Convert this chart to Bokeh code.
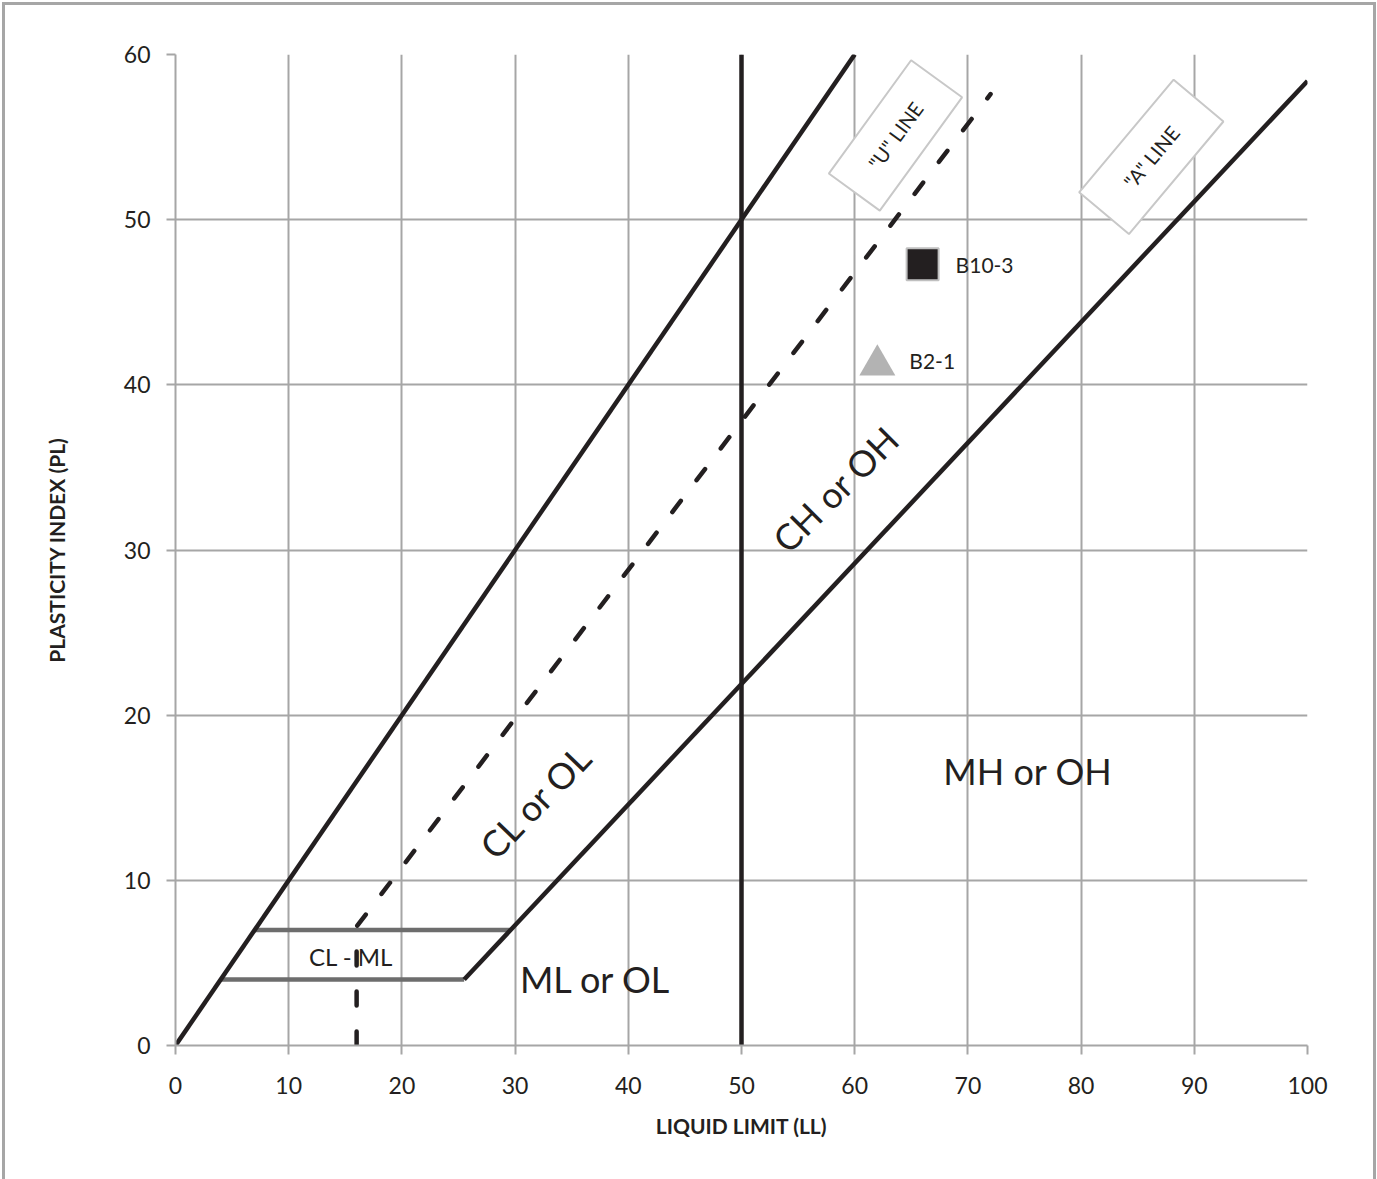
import math
from bokeh.plotting import figure
from bokeh.models import FixedTicker, ColumnDataSource
from bokeh.core.properties import value
from bokeh.embed import file_html
from bokeh.resources import INLINE

FONT = "Lato"
INK = "#231f20"
GRID = "#a6a6a6"

# ---- data ----
ll_ticks = [0, 10, 20, 30, 40, 50, 60, 70, 80, 90, 100]
pi_ticks = [0, 10, 20, 30, 40, 50, 60]

upper_ll = [0, 60]
upper_pi = [0, 60]
ll50_ll = [50, 50]
ll50_pi = [0, 60]
a_line_ll = [25.5, 100]
a_line_pi = [4.0, 58.4]
u_line_ll = [16, 16, 72]
u_line_pi = [0, 7.2, 57.6]
clml_ll = [[4, 25.5], [7, 29.6]]
clml_pi = [[4, 4], [7, 7]]

sample_names = ["B10-3", "B2-1"]
sample_ll = [66.0, 62.0]
sample_pi = [47.3, 41.2]

zone_text = ["CL or OL", "CH or OH", "MH or OH", "ML or OL", "CL - ML"]
zone_ll = [31.8, 58.3, 75.3, 37.1, 15.5]
zone_pi = [14.8, 33.7, 16.6, 4.0, 5.4]
zone_angle_deg = [46, 45, 0, 0, 0]
zone_size = ["36px", "36px", "36px", "36px", "24px"]

box_text = ['"U" LINE', '"A" LINE']
box_ll = [63.6, 86.2]
box_pi = [55.1, 53.8]
box_angle_deg = [54, 50]

p = figure(width=1368, height=1174, x_range=(0, 100), y_range=(0, 60),
           output_backend="svg", toolbar_location=None,
           min_border_left=170, min_border_right=72,
           min_border_top=49, min_border_bottom=137,
           background_fill_color="white", border_fill_color="white")
p.outline_line_color = None
# outer chart-area border, open at the bottom as in the picture
p.styles = {"margin-left": "2px", "margin-top": "2px",
            "border-left": "3px solid #a6a6a6",
            "border-top": "3px solid #a6a6a6",
            "border-right": "3px solid #a6a6a6",
            "box-sizing": "content-box"}

for ax in (p.xaxis[0], p.yaxis[0]):
    ax.axis_line_color = GRID
    ax.axis_line_width = 2
    ax.major_tick_line_color = GRID
    ax.major_tick_line_width = 2
    ax.major_tick_out = 9
    ax.major_tick_in = 0
    ax.minor_tick_line_color = None
    ax.major_label_text_font = FONT
    ax.major_label_text_font_size = "23px"
    ax.major_label_text_color = INK
    ax.axis_label_text_font = FONT
    ax.axis_label_text_font_style = "bold"
    ax.axis_label_text_font_size = "21px"
    ax.axis_label_text_color = INK

p.xaxis.ticker = FixedTicker(ticks=ll_ticks)
p.yaxis.ticker = FixedTicker(ticks=pi_ticks)
p.xaxis.axis_label = "LIQUID LIMIT (LL)"
p.yaxis.axis_label = "PLASTICITY INDEX (PL)"
p.xaxis.major_label_standoff = 22
p.yaxis.major_label_standoff = 16
p.xaxis.axis_label_standoff = 16
p.yaxis.axis_label_standoff = 52

p.xgrid.ticker = FixedTicker(ticks=ll_ticks)
p.ygrid.ticker = FixedTicker(ticks=pi_ticks)
for g in (p.xgrid[0], p.ygrid[0]):
    g.grid_line_color = GRID
    g.grid_line_width = 2

# boundary lines
p.multi_line(xs=clml_ll, ys=clml_pi, line_color="#6d6d6d", line_width=4.5)
p.line(upper_ll, upper_pi, line_color=INK, line_width=4.5)
p.line(ll50_ll, ll50_pi, line_color=INK, line_width=4.5)
p.line(a_line_ll, a_line_pi, line_color=INK, line_width=4.5)
p.line(u_line_ll, u_line_pi, line_color=INK, line_width=4.5,
       line_dash="14 26", line_cap="round")

# label boxes
bsrc = ColumnDataSource(dict(x=box_ll, y=box_pi, t=box_text,
                             a=[math.radians(d) for d in box_angle_deg],
                             w=[140, 147], h=[63, 65]))
p.rect(x="x", y="y", width="w", height="h", angle="a", source=bsrc,
       width_units="screen", height_units="screen",
       fill_color="white", line_color="#c8c8c8", line_width=2)
p.text(x="x", y="y", text="t", angle="a", source=bsrc,
       text_font=value(FONT), text_font_size="20px", text_color=INK,
       text_align="center", text_baseline="middle")

# zone labels
zsrc = ColumnDataSource(dict(x=zone_ll, y=zone_pi, t=zone_text,
                             a=[math.radians(d) for d in zone_angle_deg],
                             s=zone_size))
p.text(x="x", y="y", text="t", angle="a", text_font_size="s", source=zsrc,
       text_font=value(FONT), text_color=INK,
       text_align="center", text_baseline="middle")

# samples
p.scatter([sample_ll[0]], [sample_pi[0]], marker="square", size=32,
          fill_color=INK, line_color="#c0c0c0", line_width=2)
p.scatter([sample_ll[1]], [sample_pi[1]], marker="triangle", size=36,
          fill_color="#b3b3b3", line_color=None)
p.text(x=sample_ll, y=sample_pi, text=sample_names, x_offset=[33, 32],
       y_offset=[0, -5],
       text_font=value(FONT), text_font_size="21px", text_color=INK,
       text_align="left", text_baseline="middle")

open("out.html", "w").write(file_html(p, INLINE))
